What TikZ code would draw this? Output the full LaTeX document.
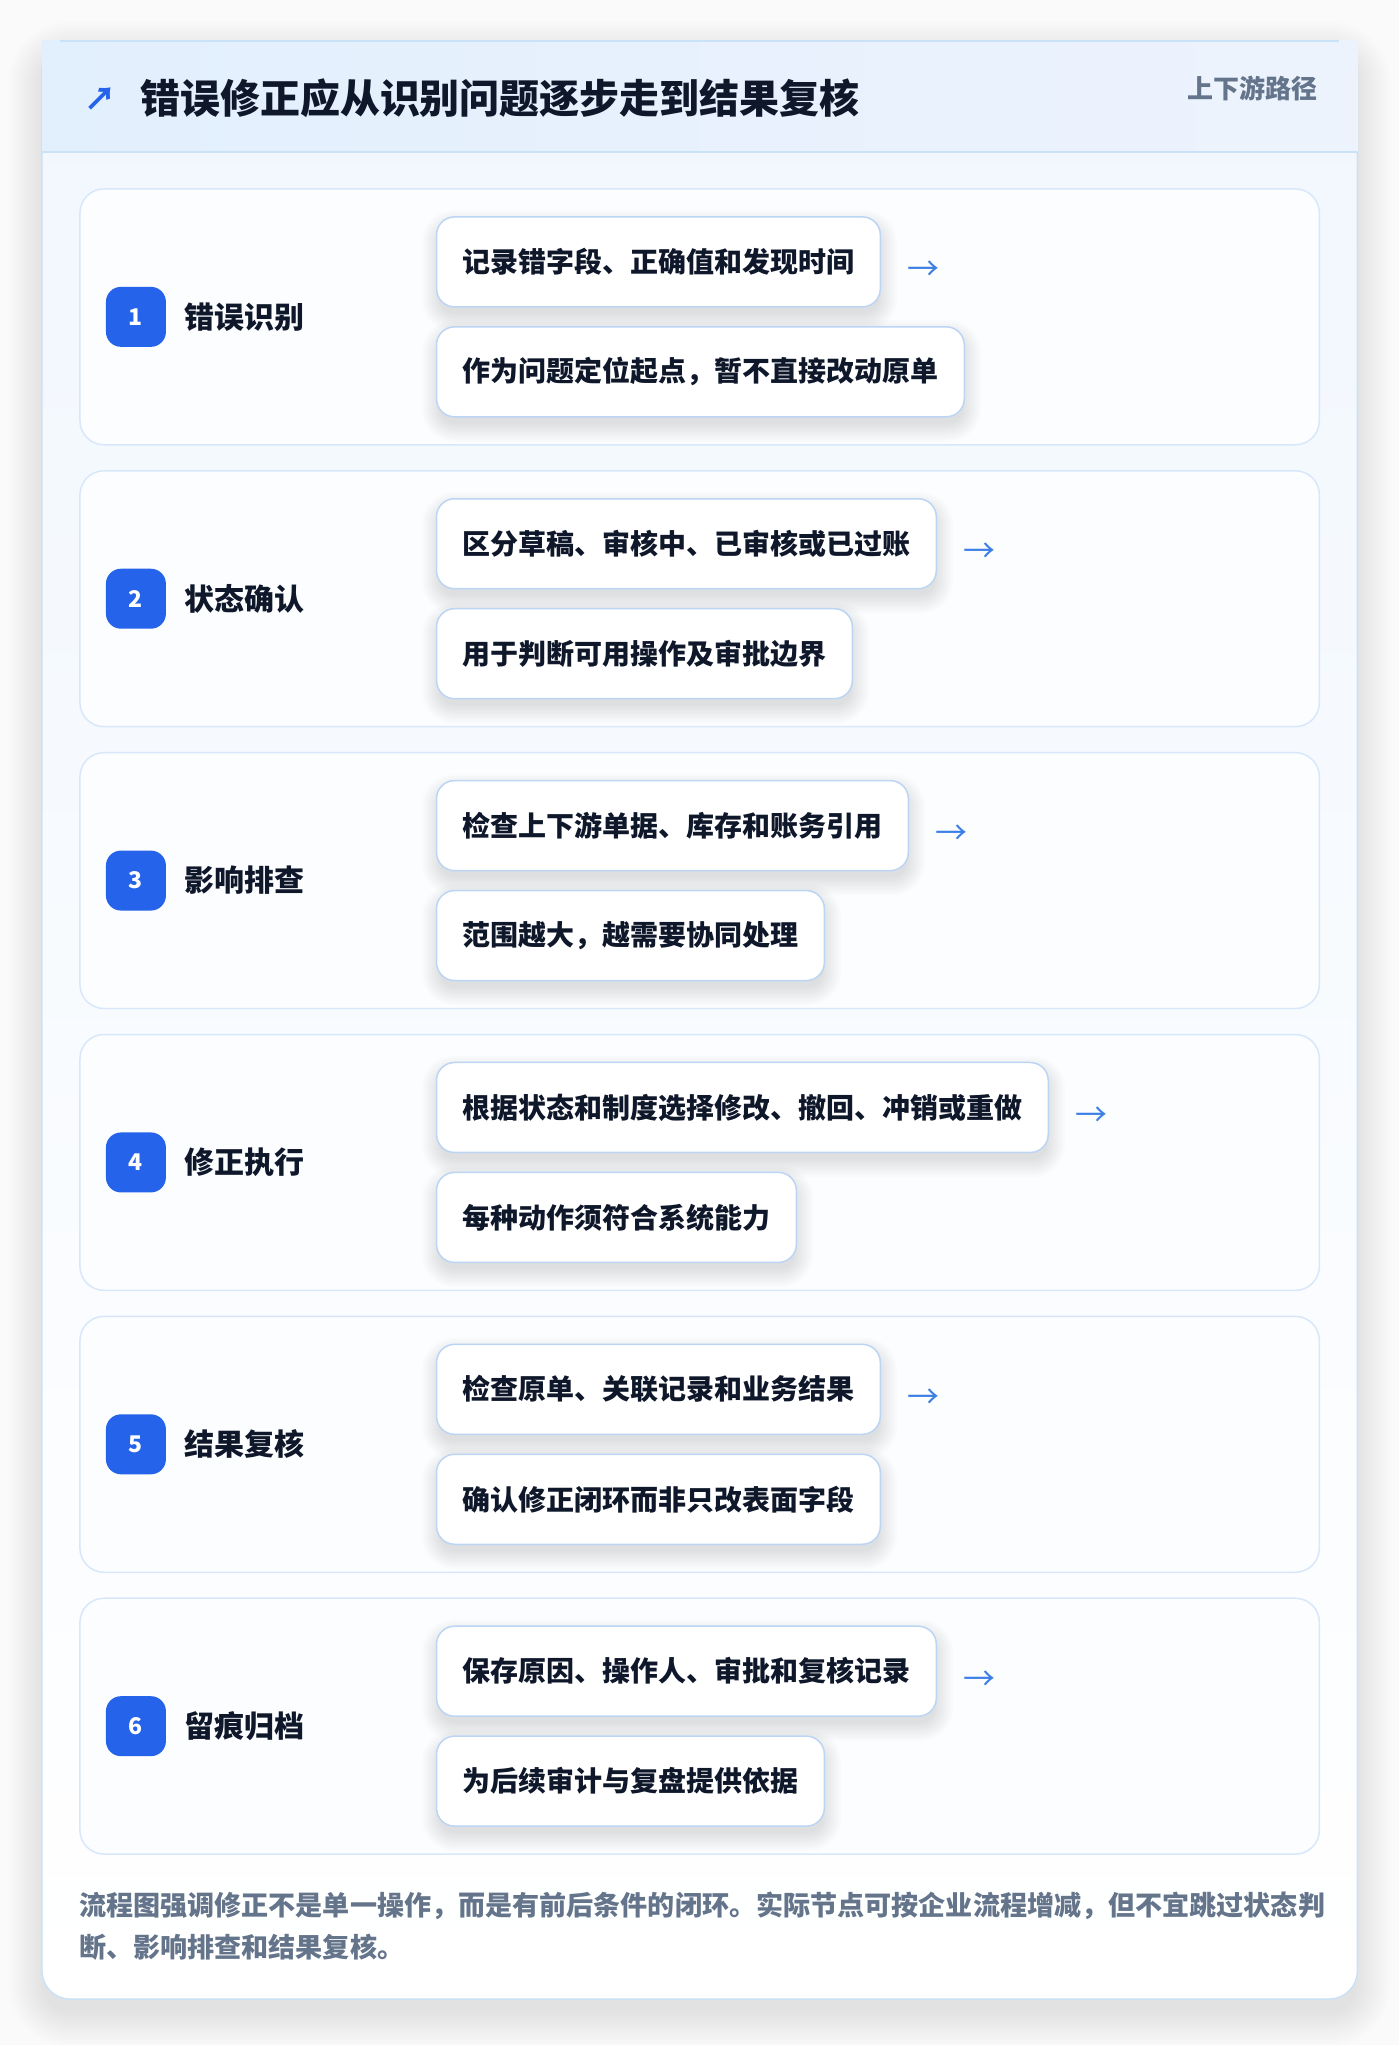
\documentclass[tikz,border=0pt]{standalone}
\usepackage{fontspec}
\setmainfont{Noto Sans CJK SC}
\definecolor{ink}{HTML}{0F172A}
\definecolor{muted}{HTML}{64748B}
\definecolor{brand}{HTML}{2563EB}
\definecolor{arrowc}{HTML}{3B7FE6}
\definecolor{cardline}{HTML}{C9E2F7}
\definecolor{stepline}{HTML}{D8E8FA}
\definecolor{subline}{HTML}{BCD5F4}
\definecolor{pagebg}{HTML}{FAFAFB}
\definecolor{stepfill}{HTML}{FBFDFF}
\definecolor{cardtop}{HTML}{F1F7FE}
\definecolor{headl}{HTML}{E2EFFD}
\definecolor{headr}{HTML}{EDF3FD}
\pgfdeclarelayer{base}
\pgfdeclarelayer{shade}
\pgfsetlayers{base,shade,main}
\newcommand\softshadow[1]{%
  \foreach \e in {-3,-1,...,15}{%
    \fill[black, opacity=0.010, rounded corners={(18+\e)*1pt}]
      ([xshift={-\e*1pt+1pt}, yshift={-9pt-\e*1pt}]#1.south west) rectangle
      ([xshift={\e*1pt+1pt}, yshift={-9pt+\e*1pt}]#1.north east);
  }%
}
\newcommand\stepblock[5]{%
  \begin{pgfonlayer}{base}
  \node[stepbox] (s#1) at (700,{-(#2+128)}) {};
  \end{pgfonlayer}
  \node[badge] (b#1) at (136,{-(#2+128)}) {#1};
  \node[steplabel] (l#1) at (184,{-(#2+128)}) {#3};
  \node[subbox] (t#1a) at (436,{-(#2+73)}) {#4};
  \node[subbox] (t#1b) at (436,{-(#2+183)}) {#5};
  \node[flowarrow] (a#1) at ([xshift=26pt,yshift=-9pt]t#1a.east) {→};
  \begin{pgfonlayer}{shade}
  \softshadow{t#1a}\softshadow{t#1b}
  \end{pgfonlayer}
}
\begin{document}
\begin{tikzpicture}[x=1pt,y=1pt,
  stepbox/.style={draw=stepline, line width=1.5pt, fill=stepfill, rounded corners=24pt,
    minimum width=1240pt, minimum height=256pt, inner sep=0pt},
  subbox/.style={draw=subline, line width=1.5pt, fill=white, rounded corners=18pt,
    minimum height=90pt, inner xsep=26pt, inner ysep=0pt, anchor=west, text=ink,
    font=\fontsize{28pt}{34pt}\selectfont\bfseries},
  badge/.style={fill=brand, rounded corners=15pt, minimum size=60pt, inner sep=0pt, text=white,
    font=\fontsize{23pt}{26pt}\selectfont\bfseries},
  steplabel/.style={anchor=west, inner sep=0pt, text=ink, font=\fontsize{30pt}{36pt}\selectfont\bfseries},
  flowarrow/.style={anchor=west, inner sep=0pt, text=arrowc, font=\fontsize{32pt}{36pt}\selectfont},
  foot/.style={anchor=west, inner sep=0pt, text=muted, font=\fontsize{27.1pt}{34pt}\selectfont\bfseries}
]
\begin{pgfonlayer}{base}
\fill[pagebg] (0,0) rectangle (1400,-2046);
\foreach \e in {0,3,...,33}{%
  \fill[black, opacity=0.007, rounded corners={(28+\e)*1pt}]
    ({42-\e},{-41+\e-14}) rectangle ({1358+\e},{-2000-\e-14});
}
% card
\path[draw=cardline, line width=1.5pt, rounded corners=28pt, top color=cardtop, bottom color=white]
  (42,-41) rectangle (1358,-2000);
% header
\fill[left color=headl, right color=headr] (42,-41) rectangle (1358,-152);
\draw[cardline, line width=1.5pt] (60,-41) -- (1340,-41);
\draw[cardline, line width=1.5pt] (42,-152) -- (1358,-152);
\end{pgfonlayer}
\useasboundingbox (0,0) rectangle (1400,-2046);
\node[anchor=center, inner sep=0pt, text=brand, font=\fontsize{32pt}{36pt}\selectfont\bfseries] (icon) at (101,-99) {↗};
\node[anchor=west, inner sep=0pt, text=ink, font=\fontsize{40pt}{46pt}\selectfont\bfseries] (title) at (140,-98) {错误修正应从识别问题逐步走到结果复核};
\node[anchor=east, inner sep=0pt, text=muted, font=\fontsize{26pt}{30pt}\selectfont\bfseries] (tag) at (1318,-88) {上下游路径};
% steps
\stepblock{1}{189}{错误识别}{记录错字段、正确值和发现时间}{作为问题定位起点，暂不直接改动原单}
\stepblock{2}{471}{状态确认}{区分草稿、审核中、已审核或已过账}{用于判断可用操作及审批边界}
\stepblock{3}{753}{影响排查}{检查上下游单据、库存和账务引用}{范围越大，越需要协同处理}
\stepblock{4}{1035}{修正执行}{根据状态和制度选择修改、撤回、冲销或重做}{每种动作须符合系统能力}
\stepblock{5}{1317}{结果复核}{检查原单、关联记录和业务结果}{确认修正闭环而非只改表面字段}
\stepblock{6}{1599}{留痕归档}{保存原因、操作人、审批和复核记录}{为后续审计与复盘提供依据}
% footer
\node[foot] (f1) at (79,-1907) {流程图强调修正不是单一操作，而是有前后条件的闭环。实际节点可按企业流程增减，但不宜跳过状态判};
\node[foot] (f2) at (79,-1948) {断、影响排查和结果复核。};
\end{tikzpicture}
\end{document}
